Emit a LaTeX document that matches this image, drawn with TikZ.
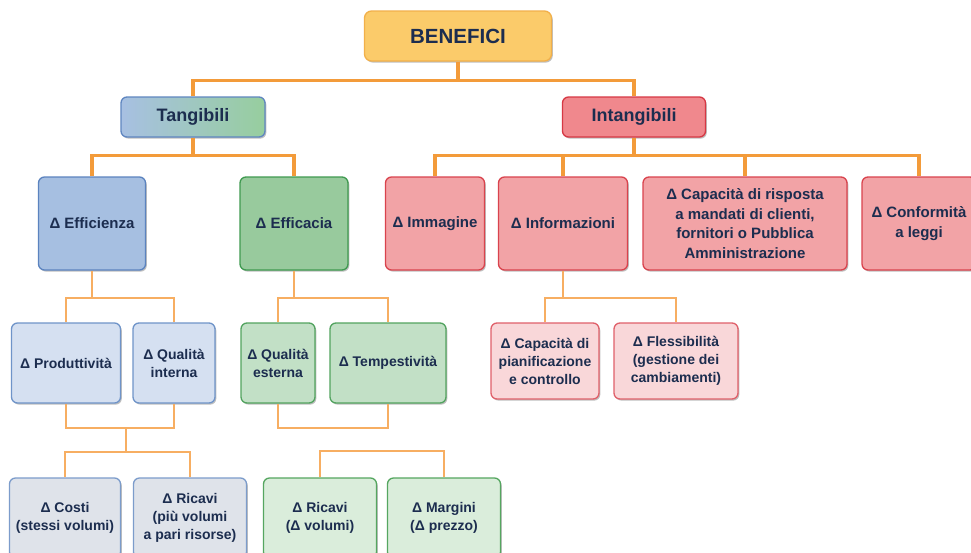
\documentclass[tikz,border=0pt]{standalone}
\usepackage{fontspec}
\setmainfont{Liberation Sans}
\usetikzlibrary{shadows}

\definecolor{ink}{HTML}{1C2D4F}
\definecolor{linkmain}{HTML}{F39B3A}
\definecolor{linkthin}{HTML}{F7AE62}
\definecolor{benfill}{HTML}{FBCB6A}
\definecolor{bendraw}{HTML}{F2B04A}
\definecolor{tanleft}{HTML}{A7C0E2}
\definecolor{tanright}{HTML}{97CE9E}
\definecolor{tandraw}{HTML}{5F86C0}
\definecolor{intfill}{HTML}{F0888D}
\definecolor{intdraw}{HTML}{D63844}
\definecolor{bluefill}{HTML}{A6BFE1}
\definecolor{bluedraw}{HTML}{5B83BF}
\definecolor{greenfill}{HTML}{98CA9D}
\definecolor{greendraw}{HTML}{3F9A50}
\definecolor{redfill}{HTML}{F2A3A6}
\definecolor{reddraw}{HTML}{D9434D}
\definecolor{lbluefill}{HTML}{D5E0F1}
\definecolor{lbluedraw}{HTML}{6F94C9}
\definecolor{lgreenfill}{HTML}{C2E0C6}
\definecolor{lgreendraw}{HTML}{52A35F}
\definecolor{lredfill}{HTML}{F9D7D9}
\definecolor{lreddraw}{HTML}{E0606A}
\definecolor{greyfill}{HTML}{DFE3EA}
\definecolor{greydraw}{HTML}{7C9CCB}
\definecolor{pgreenfill}{HTML}{DAEDDB}
\definecolor{pgreendraw}{HTML}{55A660}

\begin{document}
\begin{tikzpicture}[x=1pt,y=-1pt,
  box/.style={rectangle, rounded corners=6pt, line width=1.3pt, inner sep=0pt,
    align=center, text=ink,
    drop shadow={shadow xshift=1.3pt, shadow yshift=-1.6pt, opacity=0.25, fill=black}},
  bigtext/.style={font=\bfseries\fontsize{15}{19.5}\selectfont},
  smalltext/.style={font=\bfseries\fontsize{14}{18}\selectfont},
  mainlink/.style={draw=linkmain, line width=3.4pt},
  thinlink/.style={draw=linkthin, line width=1.8pt},
  rootbox/.style={box, fill=benfill, draw=bendraw, rounded corners=7pt,
    font=\bfseries\fontsize{20.5}{24}\selectfont},
  tanbox/.style={box, left color=tanleft, right color=tanright, draw=tandraw,
    font=\bfseries\fontsize{18}{22}\selectfont},
  intbox/.style={box, fill=intfill, draw=intdraw,
    font=\bfseries\fontsize{18}{22}\selectfont},
  bluebox/.style={box, bigtext, fill=bluefill, draw=bluedraw},
  greenbox/.style={box, bigtext, fill=greenfill, draw=greendraw},
  redbox/.style={box, bigtext, fill=redfill, draw=reddraw},
  lbluebox/.style={box, smalltext, fill=lbluefill, draw=lbluedraw},
  lgreenbox/.style={box, smalltext, fill=lgreenfill, draw=lgreendraw},
  lredbox/.style={box, smalltext, fill=lredfill, draw=lreddraw},
  greybox/.style={box, smalltext, fill=greyfill, draw=greydraw},
  pgreenbox/.style={box, smalltext, fill=pgreenfill, draw=pgreendraw}
]
\clip (0,0) rectangle (971,552);
\fill[white] (0,0) rectangle (971,552);

% root and first level
\node[rootbox, minimum width=187pt, minimum height=50pt] (ben) at (458,36) {BENEFICI};
\node[tanbox, minimum width=144pt, minimum height=40pt] (tan) at (193,117) {Tangibili};
\node[intbox, minimum width=143pt, minimum height=40pt] (int) at (634,117) {Intangibili};

% second level
\node[bluebox, minimum width=107pt, minimum height=93pt] (eff) at (92,223.5) {Δ Efficienza};
\node[greenbox, minimum width=108pt, minimum height=93pt] (efc) at (294,223.5) {Δ Efficacia};
\node[redbox, minimum width=99pt, minimum height=93pt] (imm) at (435,223.5) {Δ Immagine};
\node[redbox, minimum width=129pt, minimum height=93pt] (inf) at (563,223.5) {Δ Informazioni};
\node[redbox, minimum width=204pt, minimum height=93pt] (cri) at (745,223.5)
  {Δ Capacità di risposta\\a mandati di clienti,\\fornitori o Pubblica\\Amministrazione};
\node[redbox, minimum width=114pt, minimum height=93pt] (con) at (919,223.5) {Δ Conformità\\a leggi};

% third level
\node[lbluebox, minimum width=109pt, minimum height=80pt] (pro) at (66,363) {Δ Produttività};
\node[lbluebox, minimum width=82pt, minimum height=80pt] (qin) at (174,363) {Δ Qualità\\interna};
\node[lgreenbox, minimum width=74pt, minimum height=80pt] (qes) at (278,363) {Δ Qualità\\esterna};
\node[lgreenbox, minimum width=116pt, minimum height=80pt] (tem) at (388,363) {Δ Tempestività};
\node[lredbox, minimum width=108pt, minimum height=76pt] (pia) at (545,361) {Δ Capacità di\\pianificazione\\e controllo};
\node[lredbox, minimum width=124pt, minimum height=76pt] (fle) at (676,361) {Δ Flessibilità\\(gestione dei\\cambiamenti)};

% fourth level
\node[greybox, minimum width=111pt, minimum height=80pt] (cos) at (65,518) {Δ Costi\\(stessi volumi)};
\node[greybox, minimum width=113pt, minimum height=80pt] (ric) at (190,518) {Δ Ricavi\\(più volumi\\a pari risorse)};
\node[pgreenbox, minimum width=113pt, minimum height=80pt] (rvo) at (320,518) {Δ Ricavi\\(Δ volumi)};
\node[pgreenbox, minimum width=113pt, minimum height=80pt] (mar) at (444,518) {Δ Margini\\(Δ prezzo)};

% main connectors
\draw[mainlink] (ben.south) -- ++(0,19) coordinate (j0);
\draw[mainlink] (tan.north) |- (j0) -| (int.north);
\draw[mainlink] (tan.south) -- ++(0,18) coordinate (j1);
\draw[mainlink] (eff.north) |- (j1) -| (efc.north);
\draw[mainlink] (int.south) -- ++(0,18) coordinate (j2);
\draw[mainlink] (imm.north) |- (j2) -| (con.north);
\draw[mainlink] (inf.north) -- (inf.north |- j2);
\draw[mainlink] (cri.north) -- (cri.north |- j2);

% lower connectors
\draw[thinlink] (eff.south) -- ++(0,27) coordinate (k1);
\draw[thinlink] (pro.north) |- (k1) -| (qin.north);
\draw[thinlink] (efc.south) -- ++(0,27) coordinate (k2);
\draw[thinlink] (qes.north) |- (k2) -| (tem.north);
\draw[thinlink] (inf.south) -- ++(0,27) coordinate (k3);
\draw[thinlink] (pia.north) |- (k3) -| (fle.north);

\draw[thinlink] (pro.south) -- ++(0,24) -| (qin.south);
\coordinate (m1) at (126,427);
\draw[thinlink] (m1) -- ++(0,25) coordinate (m2);
\draw[thinlink] (cos.north) |- (m2) -| (ric.north);

\draw[thinlink] (qes.south) -- ++(0,24) -| (tem.south);
\draw[thinlink] (rvo.north) -- ++(0,-26) -| (mar.north);
\end{tikzpicture}
\end{document}
